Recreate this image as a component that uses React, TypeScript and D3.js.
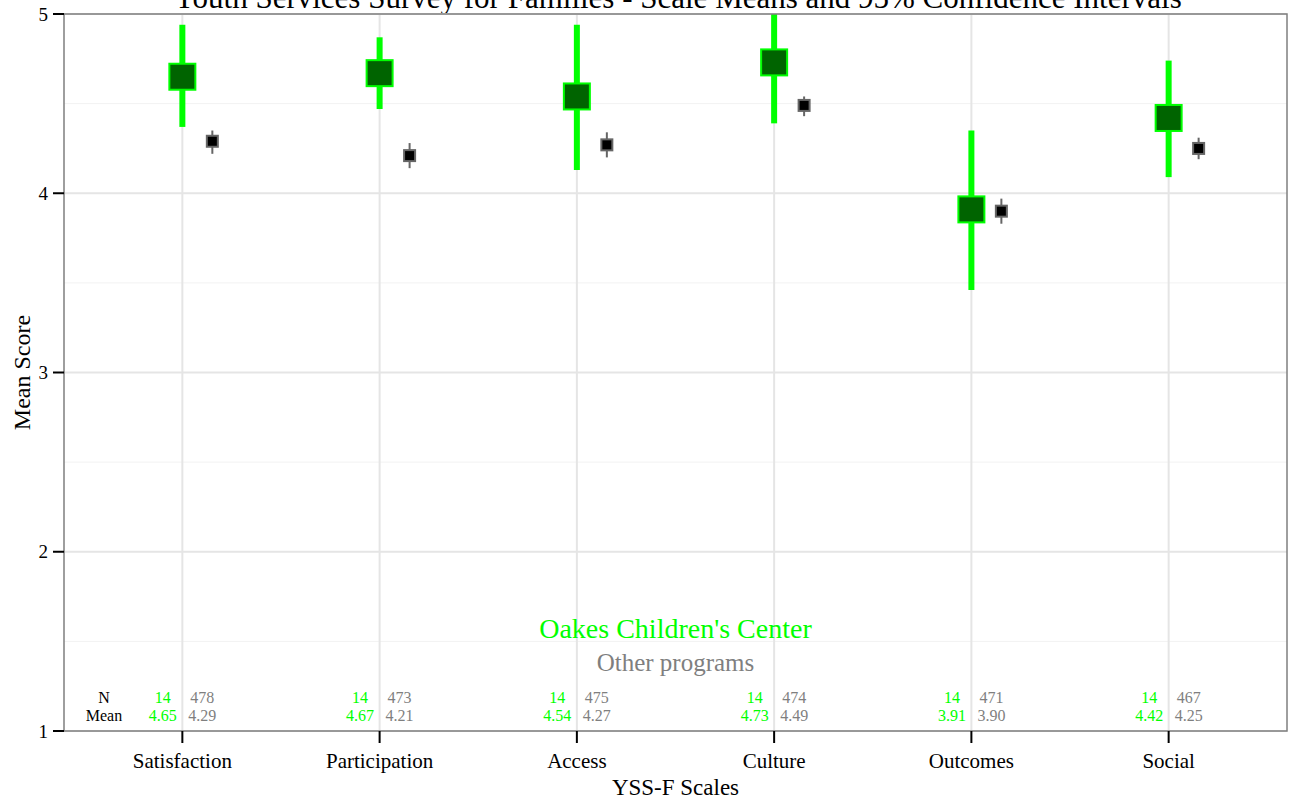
import React from "react";
import * as d3 from "d3";

const categories = ["Satisfaction", "Participation", "Access", "Culture", "Outcomes", "Social"];
const programMean = [4.65, 4.67, 4.54, 4.73, 3.91, 4.42];
const programLow = [4.37, 4.47, 4.13, 4.39, 3.46, 4.09];
const programHigh = [4.94, 4.87, 4.94, 5.07, 4.35, 4.74];
const programN = [14, 14, 14, 14, 14, 14];
const otherMean = [4.29, 4.21, 4.27, 4.49, 3.9, 4.25];
const otherLow = [4.22, 4.14, 4.2, 4.43, 3.83, 4.19];
const otherHigh = [4.35, 4.28, 4.34, 4.54, 3.97, 4.31];
const otherN = [478, 473, 475, 474, 471, 467];
const yTicks = [1, 2, 3, 4, 5];
const yMinor = [1.5, 2.5, 3.5, 4.5];

const W = 1289;
const H = 802;
const L = 64, R = 1287, T = 14, B = 731;
const FONT = "'Liberation Serif', 'Times New Roman', serif";
const GREEN = "#00FF00";
const DARKGREEN = "#006400";
const GREY = "#7F7F7F";

export default function App() {
  const x = d3.scalePoint<string>().domain(categories).range([L, R]).padding(0.6);
  const y = d3.scaleLinear().domain([1, 5]).range([B, T]);
  const step = x.step();
  const off = step * 0.152;
  const gs = 26;
  const bs = 11;

  return (
    <svg width={W} height={H} style={{ position: "absolute", left: 0, top: 0, background: "#fff" }} fontFamily={FONT}>
      <defs>
        <clipPath id="panel">
          <rect x={L} y={T} width={R - L} height={B - T} />
        </clipPath>
      </defs>
      <rect x={0} y={0} width={W} height={H} fill="#fff" />
      {/* title */}
      <text x={(L + R) / 2 + 2} y={7.5} textAnchor="middle" fontSize={31} fill="#000">
        Youth Services Survey for Families - Scale Means and 95% Confidence Intervals
      </text>
      {/* grid */}
      {yMinor.map((v) => (
        <line key={"mn" + v} x1={L} x2={R} y1={y(v)} y2={y(v)} stroke="#F2F2F2" strokeWidth={1} />
      ))}
      {yTicks.map((v) => (
        <line key={"mj" + v} x1={L} x2={R} y1={y(v)} y2={y(v)} stroke="#E5E5E5" strokeWidth={2} />
      ))}
      {categories.map((c) => (
        <line key={"vg" + c} x1={x(c)} x2={x(c)} y1={T} y2={B} stroke="#E5E5E5" strokeWidth={2} />
      ))}
      <g clipPath="url(#panel)">
        {categories.map((c, i) => {
          const cx = x(c)!;
          return (
            <g key={"pt" + c}>
              <line x1={cx} x2={cx} y1={y(programLow[i])} y2={y(programHigh[i])} stroke={GREEN} strokeWidth={6} />
              <rect x={cx - gs / 2} y={y(programMean[i]) - gs / 2} width={gs} height={gs} fill={DARKGREEN} stroke={GREEN} strokeWidth={2} />
              <line x1={cx + off} x2={cx + off} y1={y(otherLow[i])} y2={y(otherHigh[i])} stroke="#666" strokeWidth={2} />
              <rect x={cx + off - bs / 2} y={y(otherMean[i]) - bs / 2} width={bs} height={bs} fill="#000" stroke="#666" strokeWidth={2} />
            </g>
          );
        })}
      </g>
      {/* annotations */}
      <text x={(L + R) / 2} y={638} textAnchor="middle" fontSize={28} fill={GREEN}>Oakes Children's Center</text>
      <text x={(L + R) / 2} y={671} textAnchor="middle" fontSize={25} fill={GREY}>Other programs</text>
      <text x={104} y={703} textAnchor="middle" fontSize={16} fill="#000">N</text>
      <text x={104} y={721} textAnchor="middle" fontSize={16} fill="#000">Mean</text>
      {categories.map((c, i) => {
        const cx = x(c)!;
        return (
          <g key={"lab" + c} fontSize={16}>
            <text x={cx - 19.5} y={703} textAnchor="middle" fill={GREEN}>{programN[i]}</text>
            <text x={cx - 19.5} y={721} textAnchor="middle" fill={GREEN}>{programMean[i].toFixed(2)}</text>
            <text x={cx + 20} y={703} textAnchor="middle" fill={GREY}>{otherN[i]}</text>
            <text x={cx + 20} y={721} textAnchor="middle" fill={GREY}>{otherMean[i].toFixed(2)}</text>
          </g>
        );
      })}
      {/* panel border */}
      <rect x={L} y={T} width={R - L} height={B - T} fill="none" stroke={GREY} strokeWidth={1.5} />
      {/* y axis ticks */}
      {yTicks.map((v) => (
        <g key={"yt" + v}>
          <line x1={L - 11} x2={L} y1={y(v)} y2={y(v)} stroke="#000" strokeWidth={2} />
          <text x={L - 16} y={y(v)} dy="0.35em" textAnchor="end" fontSize={19} fill="#000">{v}</text>
        </g>
      ))}
      {/* x axis ticks */}
      {categories.map((c) => (
        <g key={"xt" + c}>
          <line x1={x(c)} x2={x(c)} y1={B} y2={B + 12} stroke="#000" strokeWidth={2} />
          <text x={x(c)} y={768} textAnchor="middle" fontSize={21} fill="#000">{c}</text>
        </g>
      ))}
      <text x={(L + R) / 2} y={795} textAnchor="middle" fontSize={23} fill="#000">YSS-F Scales</text>
      <text transform={`translate(30, ${(T + B) / 2}) rotate(-90)`} textAnchor="middle" fontSize={24} fill="#000">Mean Score</text>
    </svg>
  );
}
